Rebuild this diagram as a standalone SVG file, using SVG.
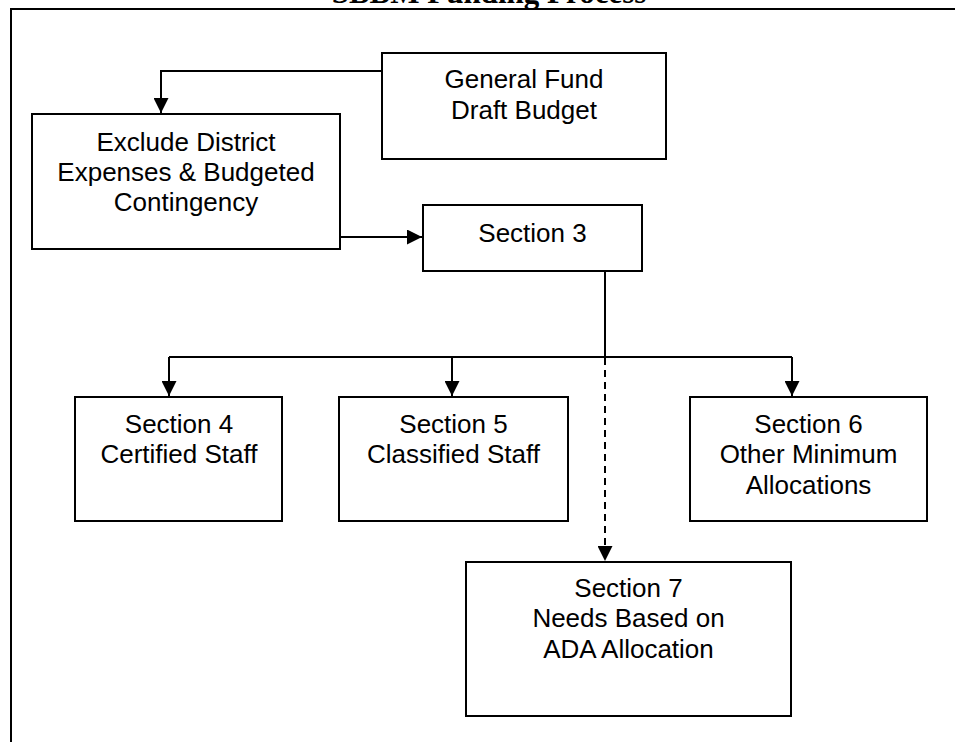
<svg xmlns="http://www.w3.org/2000/svg" width="955" height="742" viewBox="0 0 955 742">
<style>
  .box { fill: #fff; stroke: #000; stroke-width: 2; }
  .lbl { font-family: "Liberation Sans", Arial, sans-serif; font-size: 26px; fill: #000; text-anchor: middle; }
  .ttl { font-family: "Liberation Serif", "Times New Roman", serif; font-size: 31px; font-weight: bold; fill: #000; text-anchor: middle; }
  .conn { fill: none; stroke: #000; stroke-width: 2; }
  .dash { stroke-dasharray: 7 5; }
</style>
<defs>
  <marker id="arr" viewBox="0 0 15 15" refX="15" refY="7.5" markerWidth="15" markerHeight="15" markerUnits="userSpaceOnUse" orient="auto">
    <path d="M0,0 L15,7.5 L0,15 Z" fill="#000"/>
  </marker>
</defs>
<rect width="955" height="742" fill="#fff"/>
<text class="ttl" x="489" y="3">SBBM Funding Process</text>
<path d="M11,760 V9 H970" fill="none" stroke="#000" stroke-width="2"/>
<g id="connectors">
  <path class="conn" d="M382,71 H161 V113" marker-end="url(#arr)"/>
  <path class="conn" d="M340,237 H422" marker-end="url(#arr)"/>
  <path class="conn" d="M605,271 V357"/>
  <path class="conn" d="M169,357 H792"/>
  <path class="conn" d="M169,357 V396" marker-end="url(#arr)"/>
  <path class="conn" d="M452,357 V396" marker-end="url(#arr)"/>
  <path class="conn" d="M792,357 V396" marker-end="url(#arr)"/>
  <path class="conn dash" d="M605,358 V561" marker-end="url(#arr)"/>
</g>
<g id="general-fund">
  <rect class="box" x="382" y="53" width="284" height="106"/>
  <text class="lbl" x="524" y="88">General Fund</text>
  <text class="lbl" x="524" y="119">Draft Budget</text>
</g>
<g id="exclude">
  <rect class="box" x="32" y="114" width="308" height="135"/>
  <text class="lbl" x="186" y="151">Exclude District</text>
  <text class="lbl" x="186" y="181">Expenses &amp; Budgeted</text>
  <text class="lbl" x="186" y="211">Contingency</text>
</g>
<g id="section3">
  <rect class="box" x="423" y="205" width="219" height="66"/>
  <text class="lbl" x="532.5" y="242">Section 3</text>
</g>
<g id="section4">
  <rect class="box" x="75" y="397" width="207" height="124"/>
  <text class="lbl" x="179" y="433">Section 4</text>
  <text class="lbl" x="179" y="463">Certified Staff</text>
</g>
<g id="section5">
  <rect class="box" x="339" y="397" width="229" height="124"/>
  <text class="lbl" x="453.5" y="433">Section 5</text>
  <text class="lbl" x="453.5" y="463">Classified Staff</text>
</g>
<g id="section6">
  <rect class="box" x="690" y="397" width="237" height="124"/>
  <text class="lbl" x="808.5" y="433">Section 6</text>
  <text class="lbl" x="808.5" y="463">Other Minimum</text>
  <text class="lbl" x="808.5" y="494">Allocations</text>
</g>
<g id="section7">
  <rect class="box" x="466" y="562" width="325" height="154"/>
  <text class="lbl" x="628.5" y="597">Section 7</text>
  <text class="lbl" x="628.5" y="627">Needs Based on</text>
  <text class="lbl" x="628.5" y="658">ADA Allocation</text>
</g>
</svg>
